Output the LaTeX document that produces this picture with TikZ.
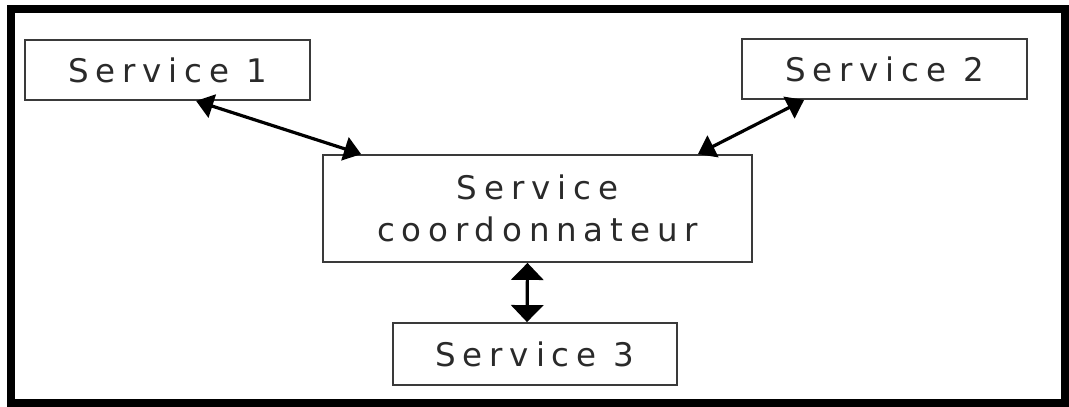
\documentclass[tikz,border=0pt]{standalone}
\usepackage{fontspec}
\usetikzlibrary{arrows.meta,calc}
\newfontfamily\lblfont[LetterSpace=21]{DejaVu Sans}
\definecolor{inkgray}{HTML}{2A2A2A}
\definecolor{edgegray}{HTML}{3A3A3A}
\tikzset{
  svcbox/.style={draw=edgegray, line width=1.8pt, rectangle, inner sep=0pt,
    text=inkgray, font=\lblfont\fontsize{32.5}{42}\selectfont, align=center},
  link/.style={line width=3.2pt, black,
    {Triangle[length=17pt,width=24pt]}-{Triangle[length=17pt,width=24pt]}},
  vlink/.style={line width=3.2pt, black,
    {Triangle[length=17pt,width=32pt]}-{Triangle[length=17pt,width=32pt]}},
  frame/.style={draw=black, line width=8pt}
}
\begin{document}
\begin{tikzpicture}[x=1pt,y=-1pt]
  \useasboundingbox (0,0) rectangle (1069,407);
  \draw[frame] (11,9) rectangle (1065,403);

  \node[svcbox, minimum width=285pt, minimum height=60pt] (s1) at (167.5,70) {Service 1};
  \node[svcbox, minimum width=285pt, minimum height=60pt] (s2) at (884.5,69) {Service 2};
  \node[svcbox, minimum width=429pt, minimum height=107pt] (co) at (537.5,208.5)
    {Service\\coordonnateur};
  \node[svcbox, minimum width=284pt, minimum height=62pt] (s3) at (535,354) {Service 3};

  \draw[link] ($(s1.south west)+(172,0)$) -- ($(co.north west)+(39,0)$);
  \draw[link] ($(s2.south west)+(63,0)$) -- ($(co.north east)+(-55,0)$);
  \draw[vlink] ($(co.south)+(-10,0)$) -- ($(s3.north)+(-8,0)$);
\end{tikzpicture}
\end{document}
